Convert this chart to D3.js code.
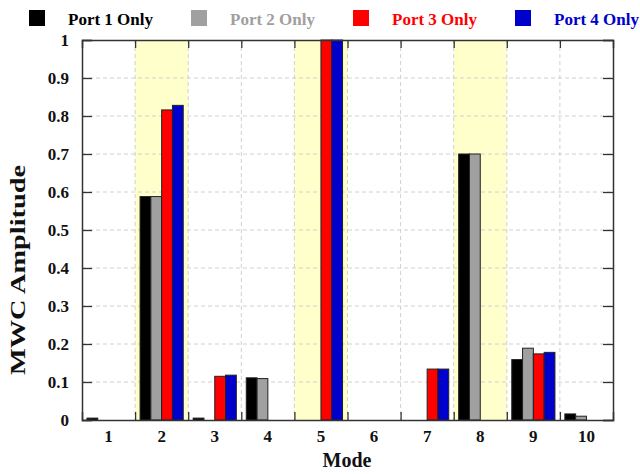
<!DOCTYPE html>
<html><head><meta charset="utf-8">
<script src="https://cdn.jsdelivr.net/npm/d3@7"></script>
<style>body{margin:0;background:#fff}svg{display:block}svg text{font-family:'Liberation Serif','Times New Roman',serif !important}</style>
</head><body>
<svg id="c" width="640" height="474"></svg>
<script>
const modes = ["1","2","3","4","5","6","7","8","9","10"];
const series = ["Port 1 Only","Port 2 Only","Port 3 Only","Port 4 Only"];
const port1 = [0.005,0.588,0.005,0.111,0,0,0,0.700,0.159,0.016];
const port2 = [0,0.588,0,0.109,0,0,0,0.700,0.189,0.010];
const port3 = [0,0.816,0.115,0,1.0,0,0.134,0,0.174,0];
const port4 = [0,0.828,0.118,0,1.0,0,0.134,0,0.178,0];
const highlighted = ["2","5","8"];
const yTicks = [0,0.1,0.2,0.3,0.4,0.5,0.6,0.7,0.8,0.9,1];
const colors = ["#000000","#a0a0a0","#ff0000","#0000cc"];
const values = [port1,port2,port3,port4];

const svg = d3.select("#c");
const L=82, R=613, T=40, B=420;
const font = "'Liberation Serif','Times New Roman',serif";

const x = d3.scaleBand().domain(modes).range([L,R]).padding(0);
const xb = d3.scaleLinear().domain([0,modes.length]).range([L,R]);
const x1 = d3.scaleBand().domain(series).range([0,x.bandwidth()]).paddingInner(0).paddingOuter(0.46);
const y = d3.scaleLinear().domain([0,1]).range([B,T]);

// highlight bands
svg.append("g").selectAll("rect").data(highlighted).join("rect")
  .attr("x",d=>x(d)).attr("y",T).attr("width",x.bandwidth()).attr("height",B-T)
  .attr("fill","#ffffcc");

// grid
const grid = svg.append("g").attr("stroke","#d0d0d0").attr("stroke-dasharray","4,3").attr("stroke-width",1);
grid.selectAll("line.h").data(yTicks.slice(1,-1)).join("line").attr("class","h")
  .attr("x1",L).attr("x2",R).attr("y1",d=>y(d)).attr("y2",d=>y(d));
grid.selectAll("line.v").data(d3.range(1,modes.length)).join("line").attr("class","v")
  .attr("x1",d=>xb(d)).attr("x2",d=>xb(d)).attr("y1",T).attr("y2",B);

// bars
const barData = [];
modes.forEach((m,i)=>series.forEach((s,j)=>barData.push({m,s,j,v:values[j][i]})));
svg.append("g").selectAll("rect").data(barData.filter(d=>d.v>0)).join("rect")
  .attr("x",d=>x(d.m)+x1(d.s)).attr("width",x1.bandwidth())
  .attr("y",d=>y(d.v)).attr("height",d=>y(0)-y(d.v))
  .attr("fill",d=>colors[d.j]).attr("stroke","#222").attr("stroke-width",1);

// axes
const ax = svg.append("g");
const yl = ax.append("g").attr("transform",`translate(${L},0)`)
  .call(d3.axisLeft(y).tickValues(yTicks).tickSize(-10).tickPadding(13).tickFormat(d3.format("")));
const yr = ax.append("g").attr("transform",`translate(${R},0)`)
  .call(d3.axisRight(y).tickValues(yTicks).tickSize(-10).tickFormat(""));
const xt = ax.append("g").attr("transform",`translate(0,${T})`)
  .call(d3.axisTop(xb).tickValues(d3.range(1,modes.length)).tickSize(-8).tickFormat(""));
const xbm = ax.append("g").attr("transform",`translate(0,${B})`)
  .call(d3.axisBottom(xb).tickValues(d3.range(1,modes.length)).tickSize(-8).tickFormat(""));
const xl = ax.append("g").attr("transform",`translate(0,${B})`)
  .call(d3.axisBottom(x).tickSize(0).tickPadding(10));
xl.select(".domain").remove();
[yl,yr,xt,xbm].forEach(g=>{g.select(".domain").attr("stroke","#333").attr("stroke-width",1.5);
  g.selectAll(".tick line").attr("stroke","#333").attr("stroke-width",1.3);});
[yl,xl].forEach(g=>g.attr("font-family",font).attr("font-size",17).attr("font-weight","bold")
  .selectAll("text").attr("fill","#111").style("font-family",font));

// titles
svg.append("text").attr("x",347).attr("y",467).attr("text-anchor","middle")
  .attr("font-family",font).attr("font-weight","bold").attr("font-size",20).attr("fill","#111").text("Mode");
svg.append("text").attr("transform","translate(25,270) rotate(-90)").attr("text-anchor","middle")
  .attr("font-family",font).attr("font-weight","bold").attr("font-size",20).attr("fill","#111")
  .attr("textLength",210).attr("lengthAdjust","spacingAndGlyphs").text("MWC Amplitude");

// legend
const legX = d3.scaleLinear().domain([0,series.length]).range([29,677]);
const lg = svg.append("g").selectAll("g").data(series).join("g")
  .attr("transform",(d,i)=>`translate(${legX(i)},10)`);
lg.append("rect").attr("width",16).attr("height",16).attr("fill",(d,i)=>colors[i]);
lg.append("text").attr("x",39).attr("y",15).attr("font-family",font).attr("font-weight","bold")
  .attr("font-size",17).attr("fill",(d,i)=>colors[i]).text(d=>d);
</script>
</body></html>
